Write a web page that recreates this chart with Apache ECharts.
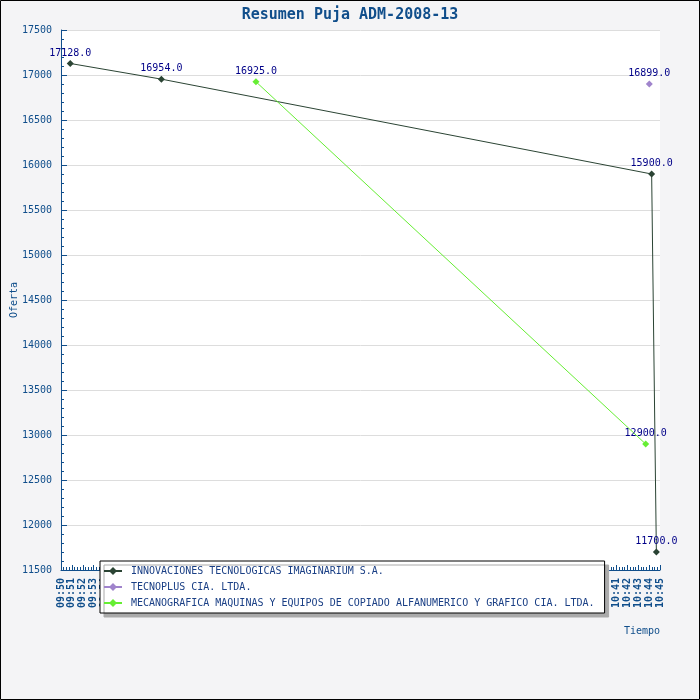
<!DOCTYPE html>
<html><head><meta charset="utf-8">
<script src="https://cdn.jsdelivr.net/npm/echarts@6/dist/echarts.min.js"></script>
<style>html,body{margin:0;padding:0;}#c{width:700px;height:700px;}</style>
</head><body><div id="c"></div>
<script>
var titleText = 'Resumen Puja ADM-2008-13';
var seriesNames = ['INNOVACIONES TECNOLOGICAS IMAGINARIUM S.A.', 'TECNOPLUS CIA. LTDA.', 'MECANOGRAFICA MAQUINAS Y EQUIPOS DE COPIADO ALFANUMERICO Y GRAFICO CIA. LTDA.'];
var seriesColors = ['#2b4434', '#a084cc', '#66ee33'];
var s1Times = ['09:50:51', '09:59:13', '10:44:14', '10:44:40'];
var s1Values = [17128, 16954, 15900, 11700];
var s2Times = ['10:44:01'];
var s2Values = [16899];
var s3Times = ['10:07:54', '10:43:41'];
var s3Values = [16925, 12900];
var xMinTime = '09:50', xMaxTime = '10:45';
var yMin = 11500, yMax = 17500, yStep = 500;

function toMin(t){var p=t.split(':').map(Number);return p[0]*60+p[1]+(p[2]||0)/60;}
function pairs(ts, vs){return ts.map(function(t,i){return [toMin(t), vs[i]];});}
function fmt(v){var h=Math.floor(v/60), m=Math.round(v-h*60);return (h<10?'0':'')+h+':'+(m<10?'0':'')+m;}

var blue = '#104e8b', mono = 'DejaVu Sans Mono';
var allData = [pairs(s1Times,s1Values), pairs(s2Times,s2Values), pairs(s3Times,s3Values)];
var chart = echarts.init(document.getElementById('c'));
chart.setOption({
  backgroundColor: '#f4f4f6',
  animation: false,
  title: {text: titleText, left: 'center', top: 3, textStyle: {fontFamily: mono, fontSize: 15, fontWeight: 'bold', color: blue}},
  grid: {left: 61, right: 40, top: 30, bottom: 130, show: true, backgroundColor: '#ffffff', borderWidth: 0, containLabel: false, outerBoundsMode: 'none'},
  graphic: [{type: 'rect', z: 100, silent: true, shape: {x: 0.5, y: 0.5, width: 699, height: 699}, style: {fill: 'none', stroke: '#000', lineWidth: 1}}],
  legend: {
    orient: 'vertical', left: 100, top: 561, width: 499,
    padding: [4, 10, 4, 3], itemGap: 4, itemWidth: 18, itemHeight: 10,
    backgroundColor: '#ffffff', borderColor: '#000', borderWidth: 1,
    shadowColor: '#aaaaaa', shadowOffsetX: 4, shadowOffsetY: 4, shadowBlur: 0,
    textStyle: {fontFamily: mono, fontSize: 10, color: '#1a3f85', lineHeight: 12, padding: [0, 0, 0, 4]},
    data: seriesNames
  },
  xAxis: {
    type: 'value', min: toMin(xMinTime), max: toMin(xMaxTime), interval: 1,
    name: 'Tiempo', nameLocation: 'end', nameGap: 0,
    nameTextStyle: {fontFamily: mono, fontSize: 10, color: blue, align: 'right', verticalAlign: 'top', padding: [56, 0, 0, 0]},
    axisLine: {lineStyle: {color: blue, width: 1}},
    axisTick: {inside: true, length: 5, lineStyle: {color: blue}},
    minorTick: {show: true, splitNumber: 4, length: 3, lineStyle: {color: blue}},
    splitLine: {show: false},
    axisLabel: {rotate: 90, margin: 8, fontFamily: mono, fontSize: 10, fontWeight: 'bold', color: blue, formatter: fmt}
  },
  yAxis: {
    type: 'value', min: yMin, max: yMax, interval: yStep,
    name: 'Oferta', nameLocation: 'middle', nameGap: 42, nameMoveOverlap: false,
    nameTextStyle: {fontFamily: mono, fontSize: 10, color: blue},
    axisLine: {show: true, lineStyle: {color: blue, width: 1}},
    axisTick: {show: true, inside: true, length: 6, lineStyle: {color: blue}},
    minorTick: {show: true, splitNumber: 5, length: 3, lineStyle: {color: blue}},
    splitLine: {show: true, lineStyle: {color: '#dddddd'}},
    axisLabel: {margin: 9, fontFamily: mono, fontSize: 10, color: blue, formatter: function(v){return String(v);}}
  },
  series: seriesNames.map(function(n, i){
    return {
      name: n, type: 'line', data: allData[i],
      symbol: 'diamond', symbolSize: 7, showSymbol: true,
      itemStyle: {color: seriesColors[i]},
      lineStyle: {color: seriesColors[i], width: 1},
      label: {show: true, position: 'top', distance: 2, fontFamily: mono, fontSize: 10, color: '#000088',
        formatter: function(p){return p.value[1].toFixed(1);}}
    };
  })
});
</script></body></html>
